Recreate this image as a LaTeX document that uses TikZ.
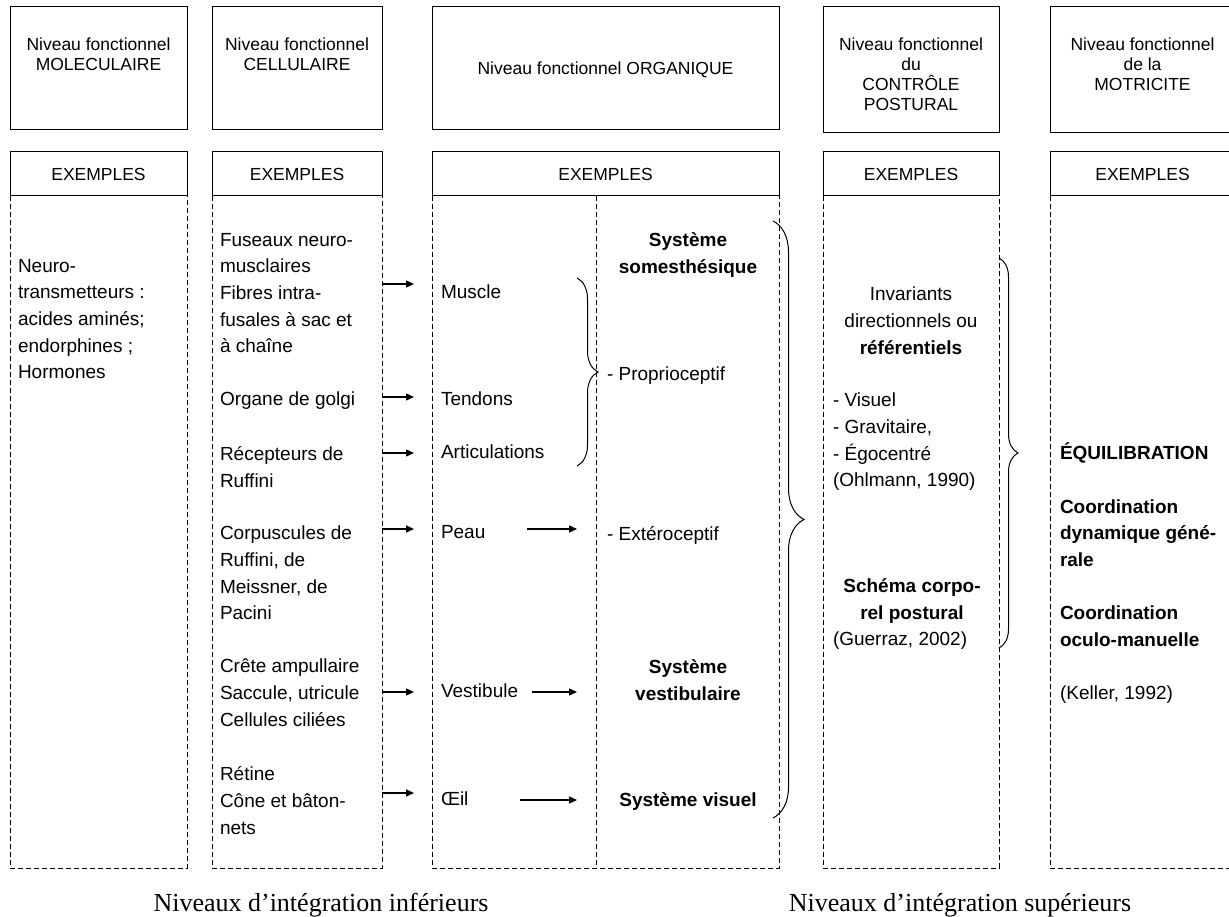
\documentclass[tikz,border=0pt]{standalone}
\usepackage{fontspec}
\setmainfont{Liberation Sans}
\newfontfamily\legendfont{Liberation Serif}
\usepackage{tikz}
\usetikzlibrary{arrows.meta,decorations.pathreplacing}
\tikzset{
	every node/.style={draw=none,rectangle,outer sep=0pt,inner sep=0pt},
	niveau/.style={draw,line width=1pt},
	titre/.style={anchor=north,align=center,font=\fontsize{17.5}{20}\selectfont},
	exemple/.style={draw,line width=1pt,minimum height=44pt,font=\fontsize{17.5}{20}\selectfont},
	corps/.style={line width=1pt,dash pattern=on 5pt off 3pt},
	txt/.style={anchor=north west,align=left,font=\fontsize{19}{26.67}\selectfont},
	ctxt/.style={anchor=north,align=center,font=\fontsize{19}{26.67}\selectfont},
	gras/.style={font=\fontsize{19}{26.67}\selectfont\bfseries},
	directed/.style={arrows={-Triangle[length=8pt,width=7pt]},line width=1.3pt},
	accolade/.style={decorate,decoration={brace,amplitude=#1},line width=1pt},
	legende/.style={anchor=base,font=\legendfont\fontsize{26}{30}\selectfont}
	}

\begin{document}
\begin{tikzpicture}[x=1pt,y=-1pt]
		\useasboundingbox (0,0) rectangle (1229,917);

		% niveaux fonctionnels
		\node[niveau,minimum width=177pt,minimum height=122.5pt] (h1) at (98.5,68.25) {};
		\node[niveau,minimum width=170pt,minimum height=122.5pt] (h2) at (297,68.25) {};
		\node[niveau,minimum width=347pt,minimum height=122.5pt] (h3) at (605.5,68.25) {};
		\node[niveau,minimum width=176pt,minimum height=125.5pt] (h4) at (911,69.75) {};
		\node[niveau,minimum width=185pt,minimum height=125.5pt] (h5) at (1142.5,69.75) {};

		\node[titre] (t1) at (98.5,37.5) {Niveau fonctionnel\\MOLECULAIRE};
		\node[titre] (t2) at (297,37.5) {Niveau fonctionnel\\CELLULAIRE};
		\node[titre,anchor=center] (t3) at (605.5,69.5) {Niveau fonctionnel ORGANIQUE};
		\node[titre] (t4) at (911,37.5) {Niveau fonctionnel\\du\\CONTRÔLE\\POSTURAL};
		\node[titre] (t5) at (1142.5,37.5) {Niveau fonctionnel\\de la\\MOTRICITE};

		\node[exemple,minimum width=177pt] (e1) at (98.5,174) {EXEMPLES};
		\node[exemple,minimum width=170pt] (e2) at (297,174) {EXEMPLES};
		\node[exemple,minimum width=347pt] (e3) at (605.5,174) {EXEMPLES};
		\node[exemple,minimum width=176pt] (e4) at (911,174) {EXEMPLES};
		\node[exemple,minimum width=185pt] (e5) at (1142.5,174) {EXEMPLES};

		\draw[corps] (10,196) rectangle (187,868);
		\draw[corps] (212,196) rectangle (382,868);
		\draw[corps] (432,196) rectangle (779,868);
		\draw[corps] (596,196) -- (596,868);
		\draw[corps] (823,196) rectangle (999,868);
		\draw[corps] (1050,196) rectangle (1235,868);

		% moleculaire
		\node[txt] (neuro) at (18,259) {Neuro-\\transmetteurs :\\acides aminés;\\endorphines ;\\Hormones};

		% cellulaire
		\node[txt] (fuseaux) at (220,233) {Fuseaux neuro-\\musclaires\\Fibres intra-\\fusales à sac et\\à chaîne};
		\node[txt] (golgi) at (220,392) {Organe de golgi};
		\node[txt] (ruffini) at (220,447) {Récepteurs de\\Ruffini};
		\node[txt] (corpus) at (220,526) {Corpuscules de\\Ruffini, de\\Meissner, de\\Pacini};
		\node[txt] (crete) at (220,659) {Crête ampullaire\\Saccule, utricule\\Cellules ciliées};
		\node[txt] (retine) at (220,767) {Rétine\\Cône et bâton-\\nets};

		% organique
		\node[txt] (muscle) at (441,285) {Muscle};
		\node[txt] (tendons) at (441,392) {Tendons};
		\node[txt] (artic) at (441,445) {Articulations};
		\node[txt] (peau) at (441,525) {Peau};
		\node[txt] (vestib) at (441,684) {Vestibule};
		\node[txt] (oeil) at (441,792) {Œil};

		\node[ctxt,gras] (somest) at (688,233) {Système\\somesthésique};
		\node[txt] (proprio) at (607,367) {- Proprioceptif};
		\node[txt] (extero) at (607,527) {- Extéroceptif};
		\node[ctxt,gras] (vestsys) at (688,660) {Système\\vestibulaire};
		\node[ctxt,gras] (vissys) at (688,793) {Système visuel};

		% controle postural
		\node[ctxt] (invar) at (911,287) {Invariants\\directionnels ou\\\textbf{référentiels}};
		\node[txt] (refer) at (833,393) {- Visuel\\- Gravitaire,\\- Égocentré\\(Ohlmann, 1990)};
		\node[ctxt,gras] (schema) at (912,579) {Schéma corpo-\\rel postural};
		\node[txt] (guerraz) at (833,632) {(Guerraz, 2002)};

		% motricite
		\node[txt,gras] (equil) at (1060,443) {ÉQUILIBRATION\\[26.67pt]Coordination\\dynamique géné-\\rale\\[26.67pt]Coordination\\oculo-manuelle\\[26.67pt]\mdseries(Keller, 1992)};

		% fleches
		\coordinate (a1) at (382,284); \coordinate (b1) at (414,284);
		\coordinate (a2) at (382,397); \coordinate (b2) at (414,397);
		\coordinate (a3) at (382,453); \coordinate (b3) at (414,453);
		\coordinate (a4) at (382,529); \coordinate (b4) at (414,529);
		\coordinate (a5) at (382,692); \coordinate (b5) at (414,692);
		\coordinate (a6) at (382,793); \coordinate (b6) at (414,793);
		\draw[directed] (a1) -- (b1);
		\draw[directed] (a2) -- (b2);
		\draw[directed] (a3) -- (b3);
		\draw[directed] (a4) -- (b4);
		\draw[directed] (a5) -- (b5);
		\draw[directed] (a6) -- (b6);

		\coordinate (c1) at (527,529); \coordinate (d1) at (577,529);
		\coordinate (c2) at (532,692); \coordinate (d2) at (577,692);
		\coordinate (c3) at (520,800); \coordinate (d3) at (577,800);
		\draw[directed] (c1) -- (d1);
		\draw[directed] (c2) -- (d2);
		\draw[directed] (c3) -- (d3);

		% accolades
		\coordinate (p1) at (577,278); \coordinate (p2) at (577,466);
		\coordinate (s1) at (773,221); \coordinate (s2) at (773,818);
		\coordinate (r1) at (999,258); \coordinate (r2) at (999,648);
		\draw[accolade=21pt] (p1) -- (p2);
		\draw[accolade=31pt] (s1) -- (s2);
		\draw[accolade=19pt] (r1) -- (r2);

		\node[legende] (inf) at (321,911) {Niveaux d’intégration inférieurs};
		\node[legende] (sup) at (960,911) {Niveaux d’intégration supérieurs};
	\end{tikzpicture}
\end{document}
